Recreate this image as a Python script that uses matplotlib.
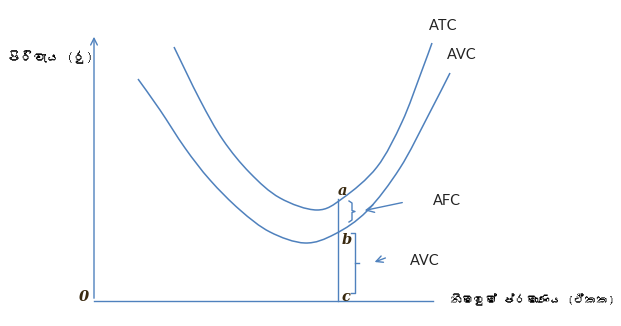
import matplotlib
matplotlib.use('Agg')
import matplotlib.pyplot as plt
from matplotlib import font_manager
from matplotlib.ft2font import FT2Font
from matplotlib.path import Path
from matplotlib.patches import PathPatch

# Curvas (unidades do gráfico: quantidade, custo)
ATC_Q = [80, 106, 129, 156, 186, 223, 249, 283, 308, 327, 338]
ATC_C = [254, 201, 161, 128, 103, 91, 103, 134, 179, 228, 258]
AVC_Q = [44, 66, 91, 116, 146, 176, 211, 241, 273, 306, 334, 356]
AVC_C = [222, 191, 153, 121, 91, 69, 58, 67, 90, 133, 185, 228]

Q0 = 244              # nível de produção marcado
PONTOS = {'a': 102, 'b': 69, 'c': 0}

Y_LABEL = 'පිරිවැය (රු)'
X_LABEL = 'නිමවුම් ප්රමාණය (ඒකක)'

AZUL = '#4F81BD'


def fonte_com(ch):
    """Procura uma fonte instalada que tenha o caractere."""
    for f in font_manager.fontManager.ttflist:
        try:
            if ord(ch) in FT2Font(f.fname).get_charmap():
                return f.name
        except Exception:
            continue
    return 'DejaVu Sans'


def curva_suave(xs, ys):
    """Caminho Bezier (Catmull-Rom) passando pelos pontos lidos."""
    pts = list(zip(xs, ys))
    verts = [pts[0]]
    codes = [Path.MOVETO]
    for i in range(len(pts) - 1):
        p0 = pts[i - 1] if i > 0 else pts[i]
        p1, p2 = pts[i], pts[i + 1]
        p3 = pts[i + 2] if i + 2 < len(pts) else p2
        c1 = (p1[0] + (p2[0] - p0[0]) / 6, p1[1] + (p2[1] - p0[1]) / 6)
        c2 = (p2[0] - (p3[0] - p1[0]) / 6, p2[1] - (p3[1] - p1[1]) / 6)
        verts += [c1, c2, p2]
        codes += [Path.CURVE4] * 3
    return Path(verts, codes)


fonte_si = fonte_com('ප')

fig = plt.figure(figsize=(6.21, 3.26), dpi=100)
ax = fig.add_axes([0, 0, 1, 1])
ax.set_xlim(-94, 527)
ax.set_ylim(-25, 301)
ax.axis('off')

# Eixos
ax.annotate('', xy=(0, 267), xytext=(0, 0),
            arrowprops=dict(arrowstyle='->', color=AZUL, lw=1.0, mutation_scale=12))
ax.plot([0, 339], [0, 0], color=AZUL, lw=1.0)

# Curvas
for q, c in [(ATC_Q, ATC_C), (AVC_Q, AVC_C)]:
    ax.add_patch(PathPatch(curva_suave(q, c), fill=False, edgecolor=AZUL, lw=1.1))

# Linha vertical em Q0
ax.plot([Q0, Q0], [0, PONTOS['a']], color=AZUL, lw=1.0)

# Chave AFC (entre a e b)
top, bot = PONTOS['a'] - 2, PONTOS['b'] + 10
mid = (top + bot) / 2
bx = Q0 + 14
ax.plot([bx - 3, bx, bx, bx + 3, bx, bx, bx - 3],
        [top, top - 2, mid + 1, mid, mid - 1, bot + 2, bot], color=AZUL, lw=1.0)

# Colchete AVC (entre b e c)
top, bot = PONTOS['b'] - 1, PONTOS['c'] + 8
mid = (top + bot) / 2
bx = Q0 + 17
ax.plot([bx - 4, bx, bx, bx - 4], [top, top, bot, bot], color=AZUL, lw=1.0)
ax.plot([bx, bx + 4], [mid, mid], color=AZUL, lw=1.0)

# Setas
ax.annotate('', xy=(268, 90), xytext=(311, 99),
            arrowprops=dict(arrowstyle='->', color=AZUL, lw=1.0, mutation_scale=14))
ax.annotate('', xy=(278, 38), xytext=(294, 44),
            arrowprops=dict(arrowstyle='->', color=AZUL, lw=1.0, mutation_scale=12))

# Textos
txt = dict(fontsize=10.5, family='Lato', ha='center', va='center', color='#222222')
ax.text(349, 275, 'ATC', **txt)
ax.text(368, 246, 'AVC', **txt)
ax.text(353, 100, 'AFC', **txt)
ax.text(331, 40, 'AVC', **txt)

let = dict(fontsize=10.5, style='italic', fontweight='bold', ha='center', va='center',
           color='#3a2a10', family='DejaVu Serif')
ax.text(Q0 + 5, 110, 'a', **let)
ax.text(Q0 + 9, 61, 'b', **let)
ax.text(Q0 + 8, 4, 'c', **let)
ax.text(-10, 4, '0', **let)

ax.text(-44, 244, Y_LABEL, fontsize=9.5, fontweight='bold', ha='center', va='center',
        family=[fonte_si, 'DejaVu Sans'])
ax.text(438, 1, X_LABEL, fontsize=8.5, fontweight='bold', ha='center', va='center',
        family=[fonte_si, 'DejaVu Sans'])

fig.savefig('out.png', dpi=100)
